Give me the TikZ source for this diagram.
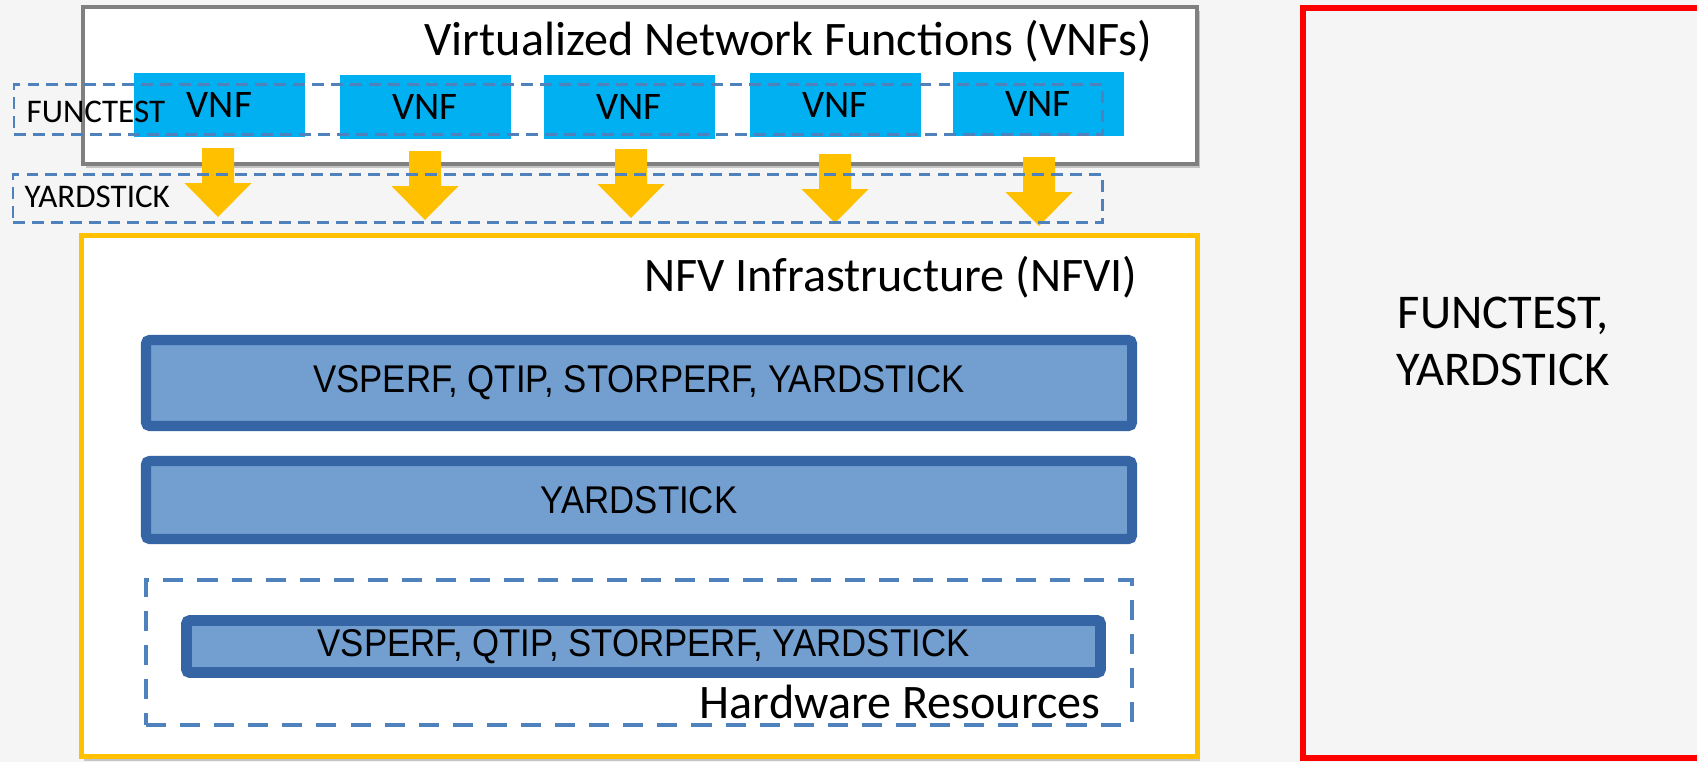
\documentclass[tikz,border=0pt]{standalone}
\usepackage{fontspec}
\setmainfont{Carlito}
\newfontfamily\barfont[FakeStretch=0.9]{Liberation Sans}
\usetikzlibrary{positioning}
\usetikzlibrary{shadows}

\definecolor{vnfblue}{HTML}{00B0F0}
\definecolor{arrowyellow}{HTML}{FFC000}
\definecolor{dashblue}{HTML}{4F81BD}
\definecolor{barfill}{HTML}{729FCF}
\definecolor{barline}{HTML}{3565A5}
\definecolor{framegrey}{HTML}{808080}
\definecolor{bggrey}{HTML}{F5F5F5}

\tikzset{
	softshadow/.style={drop shadow={shadow xshift=0.8pt, shadow yshift=-1.2pt, opacity=0.2, fill=black}},
	framebox/.style={draw=framegrey, fill=white, line width=1.28pt, inner sep=0, softshadow},
	nfvibox/.style={draw=arrowyellow, fill=white, line width=1.42pt, inner sep=0, softshadow},
	redbox/.style={draw=red, line width=1.7pt, inner sep=0},
	vnfbox/.style={fill=vnfblue, minimum width=1.71cm, minimum height=0.64cm, inner sep=0,
		font=\fontsize{11.1}{13}\selectfont},
	testbar/.style={draw=barline, fill=barfill, rounded corners=1pt, inner sep=0, softshadow,
		font=\barfont\fontsize{11}{13}\selectfont},
	toolzone/.style={draw=dashblue, line width=0.85pt, dash pattern=on 3.4pt off 2pt, inner sep=0},
	hwzone/.style={draw=dashblue, line width=1.14pt, dash pattern=on 5.7pt off 4pt, inner sep=0},
	heading/.style={inner sep=0, font=\fontsize{13.7}{16}\selectfont},
	toollabel/.style={inner sep=0, anchor=base west, font=\fontsize{9.4}{11}\selectfont},
	sidetext/.style={inner sep=0, anchor=base, font=\fontsize{13.8}{16}\selectfont}
}

\begin{document}
\begin{tikzpicture}[x=1cm, y=-1cm]
	\path[use as bounding box, fill=bggrey] (0,0) rectangle (16.97,7.62);

	% VNF layer
	\node[framebox, minimum width=11.135cm, minimum height=1.565cm] (vnfframe) at (6.4,0.855) {};
	\node[heading, anchor=base east] (vnftitle) at (11.53,0.56) {Virtualized Network Functions (VNFs)};
	\foreach \i/\x/\y in {1/2.195/1.05, 2/4.25/1.07, 3/6.29/1.065, 4/8.35/1.05, 5/10.38/1.035}
		\node[vnfbox] (vnf\i) at (\x,\y) {VNF};
	\node[toolzone, minimum width=10.885cm, minimum height=0.5cm] (ftzone) at (5.5825,1.095) {};
	\node[toollabel] (ftlabel) at (0.26,1.22) {FUNCTEST};

	% yellow arrows
	\foreach \x/\t in {2.18/1.48, 4.25/1.51, 6.31/1.49, 8.35/1.54, 10.39/1.57}
		\fill[arrowyellow] (\x-0.16,\t) -- (\x+0.16,\t) -- (\x+0.16,\t+0.35) -- (\x+0.335,\t+0.35)
			-- (\x,\t+0.69) -- (\x-0.335,\t+0.35) -- (\x-0.16,\t+0.35) -- cycle;
	\node[toolzone, minimum width=10.895cm, minimum height=0.48cm] (yszone) at (5.5775,1.985) {};
	\node[toollabel] (yslabel) at (0.24,2.07) {YARDSTICK};

	% NFVI layer
	\node[nfvibox, minimum width=11.16cm, minimum height=5.21cm] (nfvibox) at (6.395,4.96) {};
	\node[heading, anchor=base east] (nfvititle) at (11.38,2.91) {NFV Infrastructure (NFVI)};
	\node[testbar, line width=2.85pt, minimum width=9.86cm, minimum height=0.86cm] (bar1) at (6.39,3.83)
		{VSPERF, QTIP, STORPERF, YARDSTICK};
	\node[testbar, line width=2.85pt, minimum width=9.86cm, minimum height=0.78cm] (bar2) at (6.39,5.0)
		{YARDSTICK};

	% hardware
	\node[hwzone, minimum width=9.86cm, minimum height=1.45cm] (hwzone) at (6.39,6.525) {};
	\node[testbar, line width=3.1pt, minimum width=9.14cm, minimum height=0.52cm] (bar3) at (6.435,6.465)
		{VSPERF, QTIP, STORPERF, YARDSTICK};
	\node[heading, anchor=base east] (hwtitle) at (11.01,7.18) {Hardware Resources};

	% right side
	\node[redbox, minimum width=4.17cm, minimum height=7.5cm] (sidebox) at (15.115,3.83) {};
	\node[sidetext] (sidetop) at (15.03,3.28) {FUNCTEST,};
	\node[sidetext] (sidebot) at (15.03,3.85) {YARDSTICK};
\end{tikzpicture}
\end{document}
